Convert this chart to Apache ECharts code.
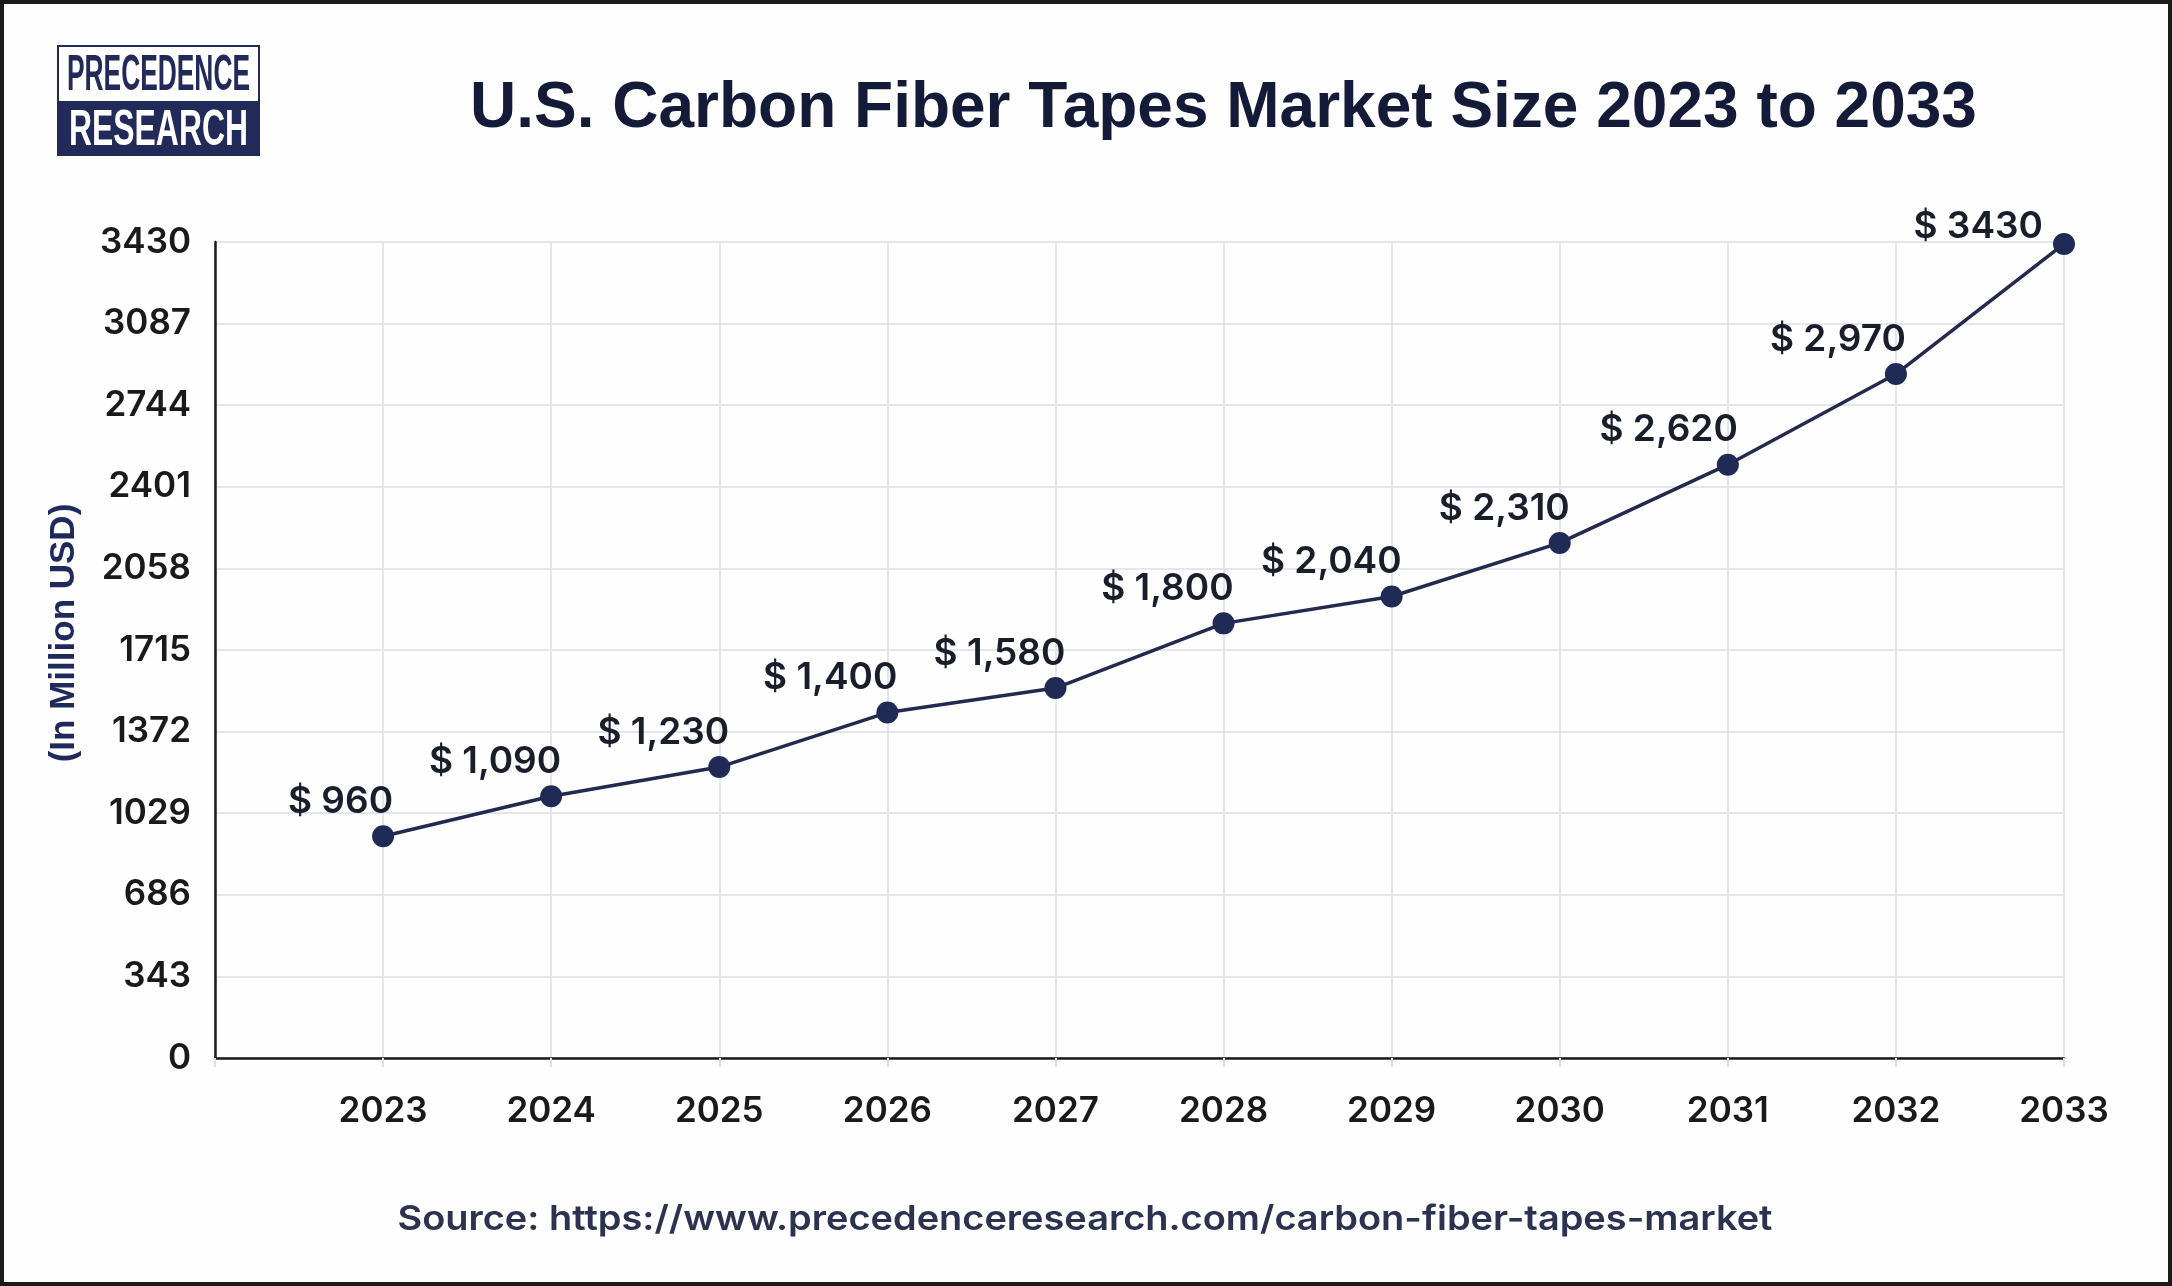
<!DOCTYPE html>
<html>
<head>
<meta charset="utf-8">
<script src="https://cdn.jsdelivr.net/npm/echarts@6/dist/echarts.min.js"></script>
<style>
  html, body { margin: 0; padding: 0; background: #fefefe; }
  #chart { width: 2172px; height: 1286px; }
</style>
</head>
<body>
<div id="chart"></div>
<script>
// ---- data ----
const years = [2023, 2024, 2025, 2026, 2027, 2028, 2029, 2030, 2031, 2032, 2033];
// values as plotted in the picture (point positions read against the y axis)
const plottedValues = [932, 1100, 1223, 1452, 1555, 1827, 1940, 2165, 2494, 2875, 3422];
// value labels as printed in the picture
const valueLabels = ['$ 960', '$ 1,090', '$ 1,230', '$ 1,400', '$ 1,580', '$ 1,800', '$ 2,040', '$ 2,310', '$ 2,620', '$ 2,970', '$ 3430'];
const yAxisMin = 0;
const yAxisMax = 3430;
const yAxisStep = 343;
const xAxisStart = 2022;
const titleText = 'U.S. Carbon Fiber Tapes Market Size 2023 to 2033';
const yAxisTitle = '(In Million USD)';
const sourceText = 'Source: https://www.precedenceresearch.com/carbon-fiber-tapes-market';
const logoTop = 'PRECEDENCE';
const logoBottom = 'RESEARCH';

// ---- helpers ----
function textWidth(txt, font) {
  const c = document.createElement('canvas').getContext('2d');
  c.font = font;
  return c.measureText(txt).width;
}
const logoFont = 'bold 50px "Liberation Sans Narrow", "Liberation Sans", sans-serif';
const sTop = 183 / textWidth(logoTop, logoFont);
const sBot = 179 / textWidth(logoBottom, logoFont);
const sourceFont = '600 34px Inter, sans-serif';
const sSource = 1375 / textWidth(sourceText, sourceFont);

const navy = '#222a5a';
const lastIdx = years.length - 1;
const seriesData = years.map((y, i) => {
  const item = { value: [y, plottedValues[i]] };
  if (i === lastIdx) item.label = { offset: [-21, 16] };
  return item;
});

const chart = echarts.init(document.getElementById('chart'), null, { renderer: 'canvas' });
chart.setOption({
  backgroundColor: '#fefefe',
  animation: false,
  title: {
    text: titleText,
    left: 465,
    top: 72,
    textStyle: {
      fontFamily: '"Liberation Sans", Arial, sans-serif',
      fontWeight: 'bold',
      fontSize: 64,
      color: '#141b38'
    }
  },
  grid: { left: 215, right: 108, top: 242, bottom: 228, containLabel: false },
  xAxis: {
    type: 'value',
    min: xAxisStart,
    max: years[lastIdx],
    interval: 1,
    axisLine: { show: true, onZero: false, lineStyle: { color: '#1a1a1a', width: 2.5 } },
    axisTick: { show: true, length: 9, lineStyle: { color: '#dcdfe5', width: 2 } },
    splitLine: { show: true, lineStyle: { color: '#e4e6eb', width: 2 } },
    axisLabel: {
      margin: 36,
      fontFamily: 'Inter, sans-serif',
      fontWeight: 600,
      fontSize: 35,
      color: '#1a1a1a',
      formatter: v => (v === xAxisStart ? '' : String(v))
    }
  },
  yAxis: {
    type: 'value',
    min: yAxisMin,
    max: yAxisMax,
    interval: yAxisStep,
    axisLine: { show: true, onZero: false, lineStyle: { color: '#1a1a1a', width: 2.5 } },
    axisTick: { show: false },
    splitLine: { show: true, lineStyle: { color: '#e4e6eb', width: 2 } },
    axisLabel: {
      margin: 24,
      fontFamily: 'Inter, sans-serif',
      fontWeight: 600,
      fontSize: 35,
      color: '#1a1a1a',
      formatter: v => String(v)
    }
  },
  series: [{
    type: 'line',
    data: seriesData,
    symbol: 'circle',
    symbolSize: 22,
    lineStyle: { color: '#242950', width: 3.5 },
    itemStyle: { color: '#1f2a55' },
    label: {
      show: true,
      position: 'top',
      distance: 4,
      align: 'right',
      offset: [10, -1],
      fontFamily: 'Inter, sans-serif',
      fontWeight: 600,
      fontSize: 37,
      color: '#1a1d2b',
      formatter: p => valueLabels[p.dataIndex]
    }
  }],
  graphic: [
    {
      type: 'rect',
      shape: { x: 2, y: 2, width: 2168, height: 1282 },
      style: { fill: 'none', stroke: '#1b1b1b', lineWidth: 4 },
      silent: true
    },
    {
      type: 'rect',
      shape: { x: 58, y: 46, width: 201, height: 109 },
      style: { fill: '#ffffff', stroke: navy, lineWidth: 2 }
    },
    {
      type: 'rect',
      shape: { x: 58, y: 101, width: 201, height: 54 },
      style: { fill: navy }
    },
    {
      type: 'text',
      x: 158.5, y: 76, scaleX: sTop, scaleY: 1,
      style: { text: logoTop, x: 0, y: 0, font: logoFont, fill: navy, textAlign: 'center', textVerticalAlign: 'middle' }
    },
    {
      type: 'text',
      x: 158.5, y: 131, scaleX: sBot, scaleY: 1,
      style: { text: logoBottom, x: 0, y: 0, font: logoFont, fill: '#ffffff', textAlign: 'center', textVerticalAlign: 'middle' }
    },
    {
      type: 'text',
      x: 64, y: 633, rotation: Math.PI / 2,
      style: {
        text: yAxisTitle, x: 0, y: 0,
        font: 'bold 35px "Liberation Sans", Arial, sans-serif',
        fill: '#1f2a5c', textAlign: 'center', textVerticalAlign: 'middle'
      }
    },
    {
      type: 'text',
      x: 1085, y: 1220, scaleX: sSource, scaleY: 1,
      style: {
        text: sourceText, x: 0, y: 0,
        font: sourceFont,
        fill: '#2b3350', textAlign: 'center', textVerticalAlign: 'middle'
      }
    }
  ]
});
</script>
</body>
</html>
